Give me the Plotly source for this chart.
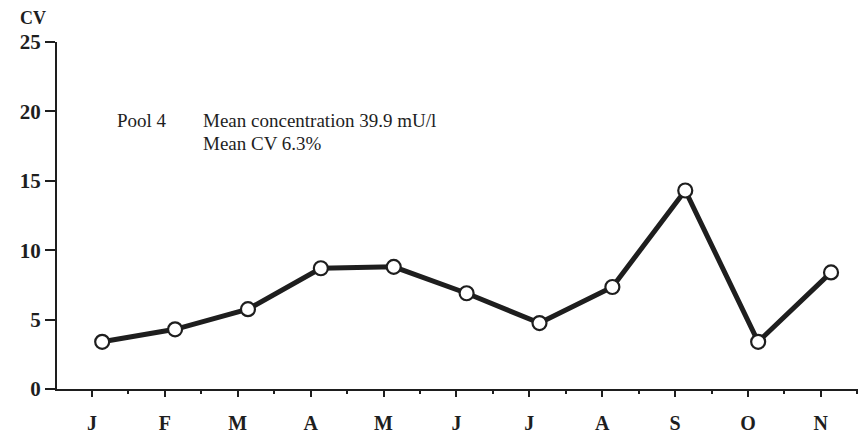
import plotly.graph_objects as go

months = ["J", "F", "M", "A", "M", "J", "J", "A", "S", "O", "N"]
cv_values = [3.4, 4.3, 5.75, 8.7, 8.8, 6.9, 4.75, 7.35, 14.3, 3.4, 8.4]
y_ticks = [0, 5, 10, 15, 20, 25]

x_pos = list(range(len(months)))
tick_offset = -0.14
major_ticks = [i + tick_offset for i in x_pos]
minor_ticks = [i + tick_offset + 0.5 for i in range(-1, len(months))]

ink = "#1e1e1e"
serif = "Liberation Serif, Times New Roman, serif"

fig = go.Figure()
fig.add_trace(go.Scatter(
    x=x_pos, y=cv_values, mode="lines+markers",
    line=dict(color=ink, width=5),
    marker=dict(symbol="circle", size=14, color="white",
                line=dict(color=ink, width=2.2)),
    cliponaxis=False, hoverinfo="skip", showlegend=False,
))

fig.update_layout(
    width=861, height=447,
    margin=dict(l=57, r=3, t=42, b=58),
    paper_bgcolor="white", plot_bgcolor="white",
    font=dict(family=serif, color=ink),
    xaxis=dict(
        range=[-0.62, 10.37], showgrid=False, zeroline=False, automargin=False,
        showline=True, linecolor=ink, linewidth=2,
        tickmode="array", tickvals=major_ticks, ticktext=months,
        ticks="outside", ticklen=6, tickwidth=2, tickcolor=ink,
        tickfont=dict(family=serif, size=20, color=ink, weight="bold"),
        ticklabelstandoff=9,
        minor=dict(tickvals=minor_ticks, ticks="outside", ticklen=3,
                   tickwidth=2, tickcolor=ink),
    ),
    yaxis=dict(
        range=[0, 25], showgrid=False, zeroline=False, automargin=False,
        showline=True, linecolor=ink, linewidth=2,
        tickmode="array", tickvals=y_ticks,
        ticks="outside", ticklen=10, tickwidth=2, tickcolor=ink,
        tickfont=dict(family=serif, size=21, color=ink, weight="bold"),
    ),
    annotations=[
        dict(text="<b>CV</b>", xref="paper", yref="paper",
             x=(33 - 57) / 801, y=(389 - 18) / 346.7,
             xanchor="center", yanchor="middle", showarrow=False,
             font=dict(family=serif, size=18, color=ink)),
        dict(text="Pool 4", xref="paper", yref="paper",
             x=(115 - 57) / 801, y=(389 - 121) / 346.7,
             xanchor="left", yanchor="middle", showarrow=False,
             font=dict(family=serif, size=19, color=ink)),
        dict(text="Mean concentration 39.9 mU/l", xref="paper", yref="paper",
             x=(201 - 57) / 801, y=(389 - 121) / 346.7,
             xanchor="left", yanchor="middle", showarrow=False,
             font=dict(family=serif, size=19, color=ink)),
        dict(text="Mean CV 6.3%", xref="paper", yref="paper",
             x=(201 - 57) / 801, y=(389 - 144) / 346.7,
             xanchor="left", yanchor="middle", showarrow=False,
             font=dict(family=serif, size=19, color=ink)),
    ],
)

fig.write_html("out.html", config={"displayModeBar": False},
               post_script="document.body.style.margin='0';")
